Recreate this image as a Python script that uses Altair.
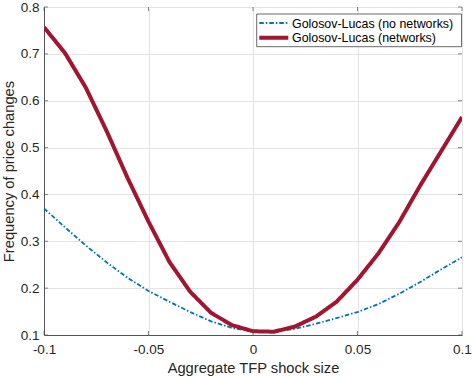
import altair as alt
import pandas as pd

# ---- data ----
shock = [-0.10, -0.09, -0.08, -0.07, -0.06, -0.05, -0.04, -0.03, -0.02, -0.01,
         0.00, 0.01, 0.02, 0.03, 0.04, 0.05, 0.06, 0.07, 0.08, 0.09, 0.10]
freq_no_networks = [0.370, 0.330, 0.291, 0.255, 0.222, 0.194, 0.171, 0.149, 0.129, 0.115,
                    0.107, 0.107, 0.113, 0.124, 0.136, 0.149, 0.166, 0.188, 0.213, 0.240, 0.266]
freq_networks = [0.757, 0.702, 0.628, 0.535, 0.435, 0.342, 0.256, 0.192, 0.147, 0.121,
                 0.108, 0.107, 0.118, 0.139, 0.171, 0.218, 0.274, 0.341, 0.419, 0.492, 0.565]
series_names = ["Golosov-Lucas (no networks)", "Golosov-Lucas (networks)"]
series_colors = ["#0072BD", "#A2142F"]
series_dash = [[4.5, 2, 1.5, 2], [1, 0]]
series_width = [1.8, 4]
x_ticks = [-0.1, -0.05, 0.0, 0.05, 0.1]
y_ticks = [0.1, 0.2, 0.3, 0.4, 0.5, 0.6, 0.7, 0.8]

rows = []
for s, a, b in zip(shock, freq_no_networks, freq_networks):
    rows.append({"x": s, "y": a, "series": series_names[0]})
    rows.append({"x": s, "y": b, "series": series_names[1]})
df = pd.DataFrame(rows)

W, H = 418, 328
FONT = "Liberation Sans"
x_scale = alt.Scale(domain=[-0.1, 0.1], nice=False, zero=False)
y_scale = alt.Scale(domain=[0.1, 0.8], nice=False, zero=False)

x_axis = alt.Axis(values=x_ticks, title="Aggregate TFP shock size",
                  labelExpr="replace(format(datum.value, '.2~f'), '\u2212', '-')",
                  ticks=False, grid=True, gridColor="#e3e3e3", labelFlush=False,
                  labelOverlap=False,
                  domainColor="#555555", labelColor="#262626", labelFontSize=13.5,
                  labelPadding=7, titleFontSize=14.7, titleFontWeight="normal",
                  titleColor="#262626", titlePadding=5, labelFont=FONT, titleFont=FONT)
y_axis = alt.Axis(values=y_ticks, title="Frequency of price changes", format=".1f",
                  ticks=False, grid=True, gridColor="#e3e3e3", labelFlush=False,
                  labelOverlap=False,
                  domainColor="#555555", labelColor="#262626", labelFontSize=13.5,
                  labelPadding=5, titleFontSize=14.7, titleFontWeight="normal",
                  titleColor="#262626", titlePadding=4, labelFont=FONT, titleFont=FONT)

lines = alt.Chart(df).mark_line(clip=True).encode(
    x=alt.X("x:Q", scale=x_scale, axis=x_axis),
    y=alt.Y("y:Q", scale=y_scale, axis=y_axis),
    color=alt.Color("series:N", scale=alt.Scale(domain=series_names, range=series_colors),
                    legend=None),
    strokeDash=alt.StrokeDash("series:N", scale=alt.Scale(domain=series_names, range=series_dash),
                              legend=None),
    strokeWidth=alt.StrokeWidth("series:N", scale=alt.Scale(domain=series_names, range=series_width),
                                legend=None),
    order="x:Q",
)

# inward ticks on all four sides (MATLAB box style)
xt = pd.DataFrame({"v": x_ticks})
yt = pd.DataFrame({"v": y_ticks})
tick_style = dict(color="#555555", thickness=1, size=4)
xb = alt.Chart(xt).mark_tick(**tick_style).encode(x=alt.X("v:Q", scale=x_scale), y=alt.value(H - 2))
xtop = alt.Chart(xt).mark_tick(**tick_style).encode(x=alt.X("v:Q", scale=x_scale), y=alt.value(2))
yl = alt.Chart(yt).mark_tick(**tick_style).encode(y=alt.Y("v:Q", scale=y_scale), x=alt.value(2))
yr = alt.Chart(yt).mark_tick(**tick_style).encode(y=alt.Y("v:Q", scale=y_scale), x=alt.value(W - 2))

# legend box (drawn by hand to match MATLAB's compact legend)
leg_df = pd.DataFrame({"series": series_names})
box = alt.Chart(leg_df.head(1)).mark_rect(fill="white", stroke="#444444", strokeWidth=0.8).encode(
    x=alt.value(212.7), x2=alt.value(417.5), y=alt.value(7), y2=alt.value(39.7))
legend_layers = [box]
row_y = [16.0, 30.7]
for i, name in enumerate(series_names):
    d = pd.DataFrame({"series": [name]})
    legend_layers.append(
        alt.Chart(d).mark_rule(color=series_colors[i], strokeDash=series_dash[i],
                               strokeWidth=series_width[i]).encode(
            x=alt.value(215.3), x2=alt.value(244.3), y=alt.value(row_y[i])))
    legend_layers.append(
        alt.Chart(d).mark_text(align="left", baseline="middle", font=FONT, fontSize=12.4,
                               color="#000000").encode(
            text="series:N", x=alt.value(248), y=alt.value(row_y[i] + 0.5)))

chart = alt.layer(lines, xb, xtop, yl, yr, *legend_layers).properties(
    width=W, height=H,
    autosize=alt.AutoSizeParams(type="none"),
    padding={"left": 44, "top": 7, "right": 11, "bottom": 41},
).configure_view(stroke="#555555", strokeWidth=1).configure(background="white")

chart.save("out.html", embed_options={"renderer": "svg", "actions": False})
